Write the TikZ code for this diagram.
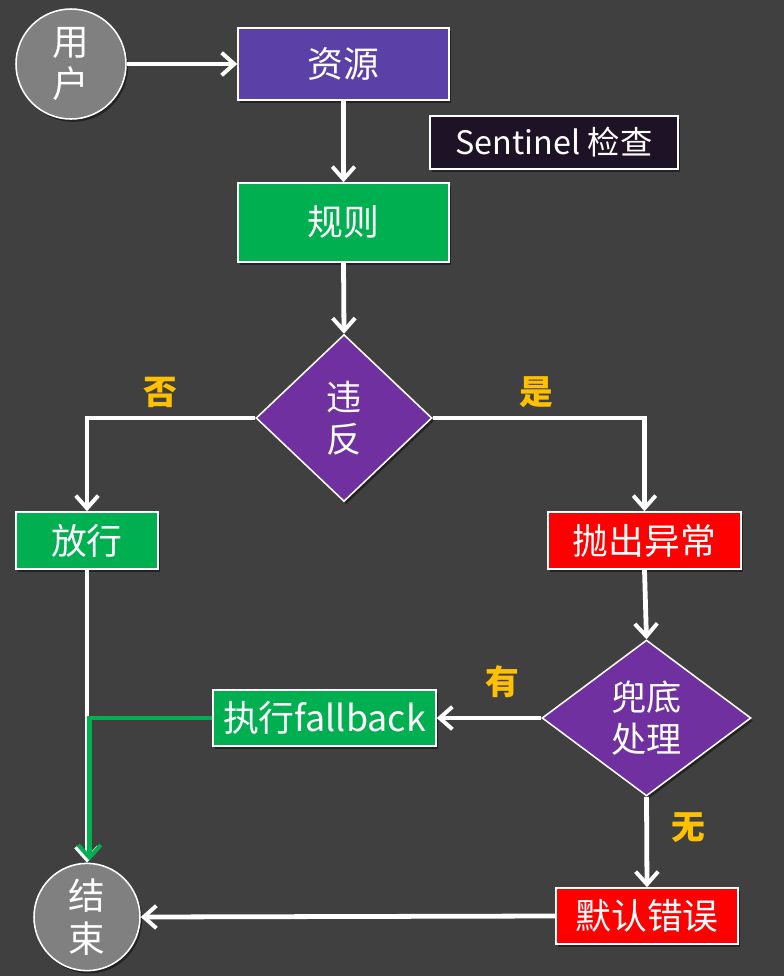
\documentclass[tikz,border=0pt]{standalone}
\usepackage{fontspec}
\setmainfont{Noto Sans CJK SC}
\usetikzlibrary{arrows.meta,shapes.geometric,shadows}
\definecolor{bgc}{RGB}{64,64,64}
\definecolor{resc}{RGB}{91,64,168}
\definecolor{sentc}{RGB}{30,18,38}
\definecolor{okgreen}{RGB}{0,176,80}
\definecolor{errred}{RGB}{255,0,0}
\definecolor{decpurple}{RGB}{112,48,160}
\definecolor{endgray}{RGB}{128,128,128}
\definecolor{lblorange}{RGB}{255,192,0}
\tikzset{
  shadowed/.style={drop shadow={shadow xshift=1.5pt,shadow yshift=-2pt,opacity=0.45,fill=black}},
  box/.style={rectangle,draw=white,line width=1.1pt,text=white,inner sep=0pt,shadowed,
    font=\fontsize{25.5}{30}\selectfont},
  decision/.style={diamond,draw=white,line width=1.1pt,fill=decpurple,text=white,inner sep=0pt,
    align=center,shadowed,font=\fontsize{25}{30}\selectfont},
  terminal/.style={ellipse,draw=white,line width=1.1pt,fill=endgray,text=white,inner sep=0pt,
    align=center,shadowed,font=\fontsize{26}{30}\selectfont},
  flow/.style={draw=white,line width=3.4pt,-{Straight Barb[length=9pt,width=16pt,line width=2.8pt]}},
  greenflow/.style={draw=okgreen,line width=3.4pt,-{Straight Barb[length=9pt,width=16pt,line width=2.8pt]}},
  branch/.style={text=lblorange,font=\fontsize{24}{28}\selectfont\bfseries},
}
\begin{document}
\begin{tikzpicture}[x=0.025cm,y=-0.025cm]
  % page background
  \fill[bgc] (0,0) rectangle (784,976);
  \useasboundingbox (0,0) rectangle (784,976);

  % nodes
  \node[terminal,minimum width={110*0.025cm},minimum height={110*0.025cm}] (user) at (71,64) {用\\户};
  \node[box,fill=resc,minimum width={211*0.025cm},minimum height={72*0.025cm}] (res) at (343.5,64) {资源};
  \node[box,fill=sentc,minimum width={248*0.025cm},minimum height={53*0.025cm},
        font=\fontsize{23}{28}\selectfont] (sent) at (554,142.5) {Sentinel 检查};
  \node[box,fill=okgreen,minimum width={211*0.025cm},minimum height={79*0.025cm}] (rule) at (343.5,222.5) {规则};
  \node[decision,minimum width={176*0.025cm},minimum height={167*0.025cm}] (viol) at (344,418) {违\\反};
  \node[box,fill=okgreen,minimum width={142*0.025cm},minimum height={57*0.025cm}] (pass) at (87,540.5) {放行};
  \node[box,fill=errred,minimum width={193*0.025cm},minimum height={57*0.025cm}] (throw) at (644.5,540.5) {抛出异常};
  \node[decision,minimum width={209*0.025cm},minimum height={156*0.025cm}] (fb) at (646.5,718) {兜底\\处理};
  \node[box,fill=okgreen,minimum width={223*0.025cm},minimum height={56*0.025cm}] (exec) at (324.5,718) {执行fallback};
  \node[box,fill=errred,minimum width={182*0.025cm},minimum height={56*0.025cm}] (deflt) at (647,916) {默认错误};
  \node[terminal,minimum width={106*0.025cm},minimum height={100*0.025cm}] (end) at (87,917) {结\\束};

  % branch labels
  \node[branch] (no) at (160,392) {否};
  \node[branch] (yes) at (536,392) {是};
  \node[branch] (has) at (502,682) {有};
  \node[branch] (none) at (688,828) {无};

  % connectors
  \draw[flow] (user.east) -- (res.west);
  \draw[flow] (res.south) -- (rule.north);
  \draw[flow] (rule.south) -- (viol.north);
  \draw[flow] (viol.west) -| (pass.north);
  \draw[flow] (viol.east) -| (throw.north);
  \draw[flow] (throw.south) -- (fb.north);
  \draw[flow] (fb.west) -- (exec.east);
  \draw[flow] (fb.south) -- (deflt.north);
  \draw[flow] (deflt.west) -- (end.east);
  \draw[flow] (pass.south) -- (end.north);
  \draw[greenflow] (exec.west) -| ([xshift=2.5*0.025cm,yshift=2*0.025cm]end.north);
\end{tikzpicture}
\end{document}
